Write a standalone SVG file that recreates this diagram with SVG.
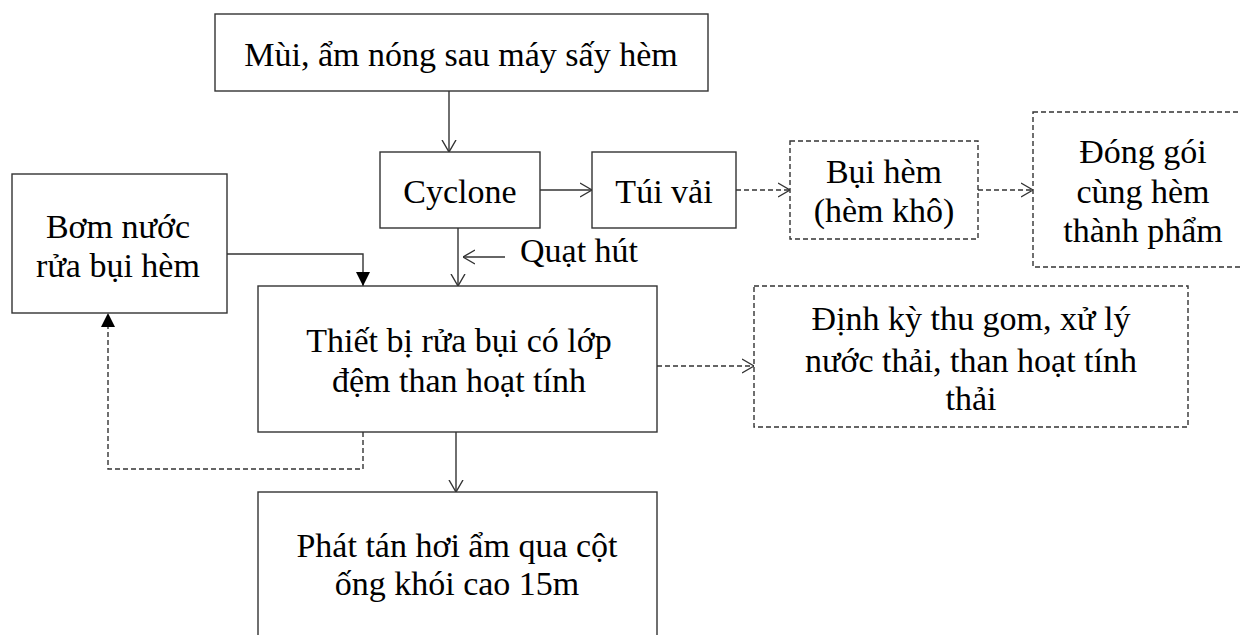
<svg xmlns="http://www.w3.org/2000/svg" width="1241" height="635" viewBox="0 0 1241 635">
  <style>
    .box { fill: #fff; stroke: #333; stroke-width: 1.4; }
    .dbox { fill: #fff; stroke: #333; stroke-width: 1.4; stroke-dasharray: 5 3; }
    .ln { fill: none; stroke: #333; stroke-width: 1.4; }
    .dl { fill: none; stroke: #333; stroke-width: 1.4; stroke-dasharray: 5 3; }
    text { font-family: "Liberation Serif", "Times New Roman", serif; font-size: 34px; fill: #000; text-anchor: middle; }
  </style>
  <defs>
    <marker id="open" viewBox="0 0 12 16" refX="12" refY="8" markerWidth="12" markerHeight="16" markerUnits="userSpaceOnUse" orient="auto">
      <path d="M0,1 L12,8 L0,15" fill="none" stroke="#333" stroke-width="1.4"/>
    </marker>
    <marker id="solid" viewBox="0 0 14 14" refX="14" refY="7" markerWidth="14" markerHeight="14" markerUnits="userSpaceOnUse" orient="auto">
      <path d="M0,0 L14,7 L0,14 Z" fill="#000"/>
    </marker>
  </defs>

  <g id="connectors">
    <line class="ln" x1="449" y1="91" x2="449" y2="152" marker-end="url(#open)"/>
    <line class="ln" x1="540" y1="190" x2="592" y2="190" marker-end="url(#open)"/>
    <line class="dl" x1="736" y1="190" x2="790" y2="190" marker-end="url(#open)"/>
    <line class="dl" x1="978" y1="190" x2="1033" y2="190" marker-end="url(#open)"/>
    <line class="ln" x1="458" y1="228" x2="458" y2="286" marker-end="url(#open)"/>
    <line class="ln" x1="505" y1="257" x2="463" y2="257" marker-end="url(#open)"/>
    <polyline class="ln" points="227,254 363,254 363,286" marker-end="url(#solid)"/>
    <polyline class="dl" points="363,432 363,469 108,469 108,313" marker-end="url(#solid)"/>
    <line class="dl" x1="657" y1="366" x2="754" y2="366" marker-end="url(#open)"/>
    <line class="ln" x1="456" y1="432" x2="456" y2="492" marker-end="url(#open)"/>
  </g>

  <g id="node-source">
    <rect class="box" x="215" y="14" width="493" height="77"/>
    <text x="461" y="66">Mùi, ẩm nóng sau máy sấy hèm</text>
  </g>

  <g id="node-cyclone">
    <rect class="box" x="380" y="152" width="160" height="76"/>
    <text x="460" y="203">Cyclone</text>
  </g>

  <g id="node-bag">
    <rect class="box" x="592" y="152" width="144" height="76"/>
    <text x="664" y="203">Túi vải</text>
  </g>

  <g id="node-dust">
    <rect class="dbox" x="790" y="141" width="188" height="98"/>
    <text x="884" y="183">Bụi hèm</text>
    <text x="884" y="222">(hèm khô)</text>
  </g>

  <g id="node-pack">
    <rect class="dbox" x="1033" y="112" width="230" height="155"/>
    <text x="1143" y="163">Đóng gói</text>
    <text x="1143" y="203">cùng hèm</text>
    <text x="1143" y="242">thành phẩm</text>
  </g>

  <g id="node-fan-label">
    <text x="520" y="262" style="text-anchor: start">Quạt hút</text>
  </g>

  <g id="node-pump">
    <rect class="box" x="12" y="174" width="215" height="139"/>
    <text x="118" y="238">Bơm nước</text>
    <text x="118" y="277">rửa bụi hèm</text>
  </g>

  <g id="node-scrubber">
    <rect class="box" x="258" y="286" width="399" height="146"/>
    <text x="459" y="352">Thiết bị rửa bụi có lớp</text>
    <text x="459" y="392">đệm than hoạt tính</text>
  </g>

  <g id="node-waste">
    <rect class="dbox" x="754" y="286" width="434" height="141"/>
    <text x="971" y="330">Định kỳ thu gom, xử lý</text>
    <text x="971" y="372">nước thải, than hoạt tính</text>
    <text x="971" y="410">thải</text>
  </g>

  <g id="node-stack">
    <rect class="box" x="258" y="492" width="399" height="160"/>
    <text x="457" y="557">Phát tán hơi ẩm qua cột</text>
    <text x="457" y="595">ống khói cao 15m</text>
  </g>
</svg>
